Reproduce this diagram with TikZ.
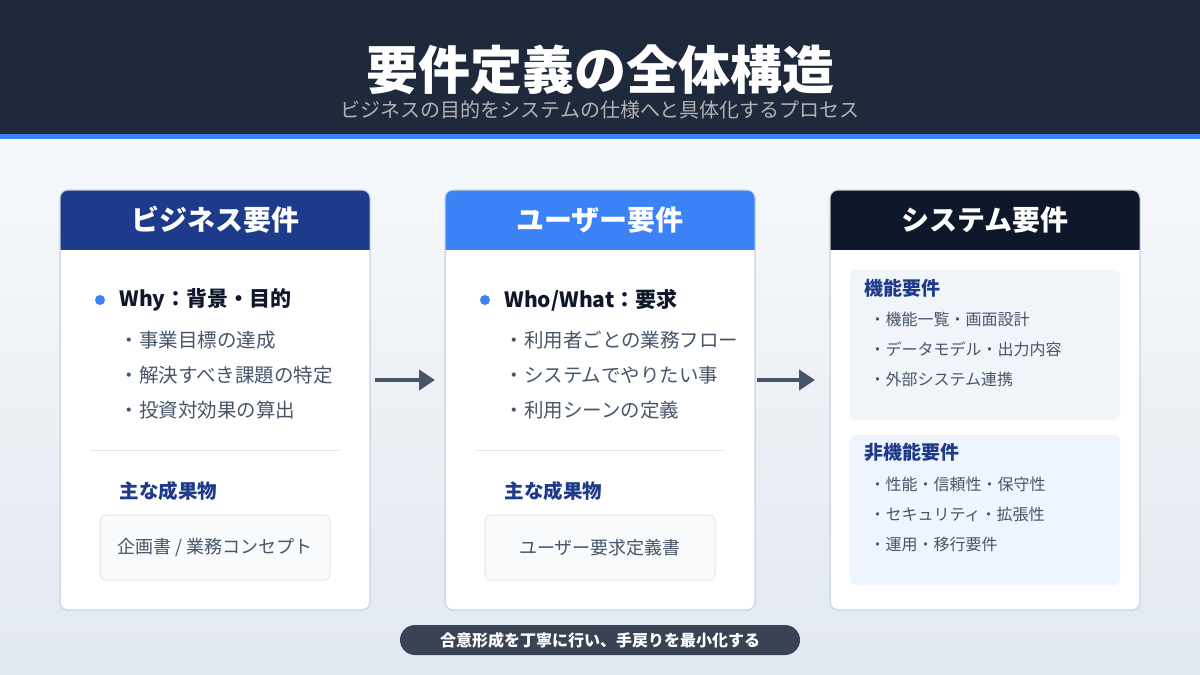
\documentclass[tikz,border=0pt]{standalone}
\usepackage{fontspec}
\setmainfont{Noto Sans CJK JP}
\usetikzlibrary{arrows.meta}
\definecolor{navy}{HTML}{1E293B}
\definecolor{blue}{HTML}{3B82F6}
\definecolor{dblue}{HTML}{1E3A8A}
\definecolor{black2}{HTML}{0F172A}
\definecolor{txt}{HTML}{475569}
\definecolor{bord}{HTML}{CBD5E1}
\definecolor{slate1}{HTML}{F1F5F9}
\definecolor{slate2}{HTML}{E2E8F0}
\tikzset{
 card/.style={fill=white,draw=bord,line width=1pt,rounded corners=8pt},
 htxt/.style={text=white,font=\fontsize{28}{32}\selectfont\bfseries},
 lead/.style={anchor=west,text=black2,font=\fontsize{21}{24}\selectfont\bfseries},
 item/.style={anchor=west,text=txt,font=\fontsize{19.5}{22}\selectfont},
 sitem/.style={anchor=west,text=txt,font=\fontsize{16}{19}\selectfont},
 sub/.style={anchor=west,text=dblue,font=\fontsize{19.5}{22}\selectfont\bfseries},
 outbox/.style={fill=slate1!50,draw=slate2,line width=1pt,rounded corners=6pt},
 arr/.style={line width=4pt,draw=txt,-{Triangle[length=16pt,width=20pt]}},
}
\begin{document}
\begin{tikzpicture}[x=1pt,y=-1pt]
\useasboundingbox (0,0) rectangle (1200,675);
\shade[top color=slate1!60,bottom color=slate2] (0,139) rectangle (1200,675);
\fill[navy] (0,0) rectangle (1200,134);
\fill[blue] (0,134) rectangle (1200,139);
\node[text=white,font=\fontsize{52}{58}\selectfont\bfseries] (title) at (600,70) {要件定義の全体構造};
\node[text=gray!60,font=\fontsize{20}{24}\selectfont] (subt) at (600,110) {ビジネスの目的をシステムの仕様へと具体化するプロセス};
\foreach \x/\c in {60/dblue,445/blue,830/black2}{
 \draw[card] (\x,190) rectangle ++(310,420);
 \begin{scope}
 \clip[rounded corners=8pt] (\x,190) rectangle ++(310,420);
 \fill[\c] (\x,190) rectangle ++(310,60);
 \end{scope}
 \draw[bord,line width=1pt,rounded corners=8pt] (\x,190) rectangle ++(310,420);
}
\node[htxt] (ha) at (215,220) {ビジネス要件};
\node[htxt] (hb) at (600,220) {ユーザー要件};
\node[htxt] (hc) at (985,220) {システム要件};
% card 1
\fill[blue] (100,300) circle (5);
\node[lead] (la) at (116,300) {Why：背景・目的};
\node[item] (a1) at (116,340) {・事業目標の達成};
\node[item] (a2) at (116,375) {・解決すべき課題の特定};
\node[item] (a3) at (116,410) {・投資対効果の算出};
\draw[slate2,line width=1pt] (90,450) -- (340,450);
\node[sub] (sa) at (116,491) {主な成果物};
\draw[outbox] (100,515) rectangle (330,580);
\node[text=txt,font=\fontsize{18}{21}\selectfont] (oa) at (215,548) {企画書 / 業務コンセプト};
% card 2
\fill[blue] (485,300) circle (5);
\node[lead] (lb) at (501,300) {Who/What：要求};
\node[item] (b1) at (501,340) {・利用者ごとの業務フロー};
\node[item] (b2) at (501,375) {・システムでやりたい事};
\node[item] (b3) at (501,410) {・利用シーンの定義};
\draw[slate2,line width=1pt] (475,450) -- (725,450);
\node[sub] (sb) at (501,491) {主な成果物};
\draw[outbox] (485,515) rectangle (715,580);
\node[text=txt,font=\fontsize{18}{21}\selectfont] (ob) at (600,548) {ユーザー要求定義書};
% card 3
\fill[slate1,rounded corners=6pt] (850,270) rectangle (1120,420);
\node[sub,font=\fontsize{19}{22}\selectfont\bfseries] (c0) at (861,288) {機能要件};
\node[sitem] (c1) at (866,319) {・機能一覧・画面設計};
\node[sitem] (c2) at (866,349) {・データモデル・出力内容};
\node[sitem] (c3) at (866,379) {・外部システム連携};
\fill[blue!8,rounded corners=6pt] (850,435) rectangle (1120,585);
\node[sub,font=\fontsize{19}{22}\selectfont\bfseries] (d0) at (861,452) {非機能要件};
\node[sitem] (d1) at (866,484) {・性能・信頼性・保守性};
\node[sitem] (d2) at (866,514) {・セキュリティ・拡張性};
\node[sitem] (d3) at (866,544) {・運用・移行要件};
\coordinate (p1) at (375,380); \coordinate (p2) at (435,380);
\coordinate (q1) at (757,380); \coordinate (q2) at (815,380);
\draw[arr] (p1) -- (p2);
\draw[arr] (q1) -- (q2);
\node[fill=navy!88!white,rounded corners=15pt,minimum width=400pt,minimum height=30pt,text=white,font=\fontsize{16}{19}\selectfont\bfseries] (pill) at (600,640) {合意形成を丁寧に行い、手戻りを最小化する};
\end{tikzpicture}
\end{document}
